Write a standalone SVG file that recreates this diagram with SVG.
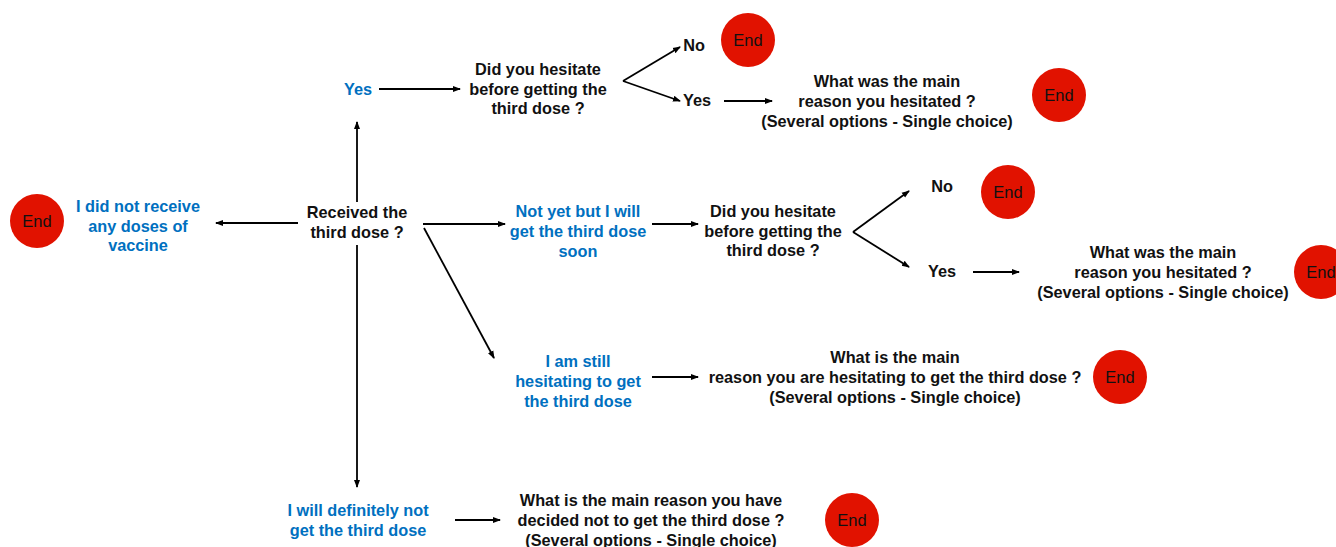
<svg xmlns="http://www.w3.org/2000/svg" width="1336" height="547" viewBox="0 0 1336 547">
<style>
.q{font-family:"Liberation Sans",Arial,sans-serif;font-weight:bold;font-size:16.3px;fill:#111;text-anchor:middle}
.b{fill:#0070C0}
.end circle{fill:#E11200}
.end text{font-family:"Liberation Sans",Arial,sans-serif;font-size:16.5px;fill:#111;text-anchor:middle}
.c line{stroke:#000;stroke-width:1.8;fill:none}
.c .a{marker-end:url(#ah)}
</style>
<defs>
<marker id="ah" markerWidth="8" markerHeight="8" refX="7" refY="4" orient="auto" markerUnits="userSpaceOnUse">
<path d="M0,1 L8,4 L0,7 Z" fill="#000"/>
</marker>
</defs>
<rect width="1336" height="547" fill="#fff"/>

<g class="c" id="connectors">
<line class="a" x1="357" y1="202" x2="357" y2="122"/>
<line class="a" x1="298" y1="223" x2="216" y2="223"/>
<line class="a" x1="357" y1="245" x2="357" y2="487"/>
<line class="a" x1="423" y1="224" x2="505" y2="224"/>
<line class="a" x1="424" y1="228" x2="494" y2="358"/>
<line class="a" x1="379" y1="89" x2="460" y2="89"/>
<line class="a" x1="623" y1="81" x2="680" y2="47"/>
<line class="a" x1="623" y1="81" x2="680" y2="101"/>
<line class="a" x1="724" y1="101" x2="772" y2="101"/>
<line class="a" x1="652" y1="224" x2="698" y2="224"/>
<line class="a" x1="853" y1="232" x2="909" y2="191"/>
<line class="a" x1="853" y1="232" x2="909" y2="267"/>
<line class="a" x1="973" y1="272" x2="1019" y2="272"/>
<line class="a" x1="652" y1="377" x2="698" y2="377"/>
<line class="a" x1="455" y1="520" x2="500" y2="520"/>
</g>

<g id="received">
<text class="q" x="357" y="218">Received the</text>
<text class="q" x="357" y="238">third dose ?</text>
</g>

<g id="no-vaccine">
<text class="q b" x="138" y="212">I did not receive</text>
<text class="q b" x="138" y="232">any doses of</text>
<text class="q b" x="138" y="251">vaccine</text>
</g>
<g id="end1" class="end"><circle cx="37" cy="221" r="27"/><text x="37" y="227">End</text></g>

<g id="yes1"><text class="q b" x="358" y="95">Yes</text></g>
<g id="hesitate1">
<text class="q" x="538" y="75">Did you hesitate</text>
<text class="q" x="538" y="95">before getting the</text>
<text class="q" x="538" y="114">third dose ?</text>
</g>
<g id="no1"><text class="q" x="694" y="51">No</text></g>
<g id="end2" class="end"><circle cx="748" cy="40" r="27"/><text x="748" y="46">End</text></g>
<g id="yes1b"><text class="q" x="697" y="106">Yes</text></g>
<g id="reason1">
<text class="q" x="887" y="87">What was the main</text>
<text class="q" x="887" y="107">reason you hesitated ?</text>
<text class="q" x="887" y="127">(Several options - Single choice)</text>
</g>
<g id="end3" class="end"><circle cx="1059" cy="95" r="27"/><text x="1059" y="101">End</text></g>

<g id="notyet">
<text class="q b" x="578" y="217">Not yet but I will</text>
<text class="q b" x="578" y="237">get the third dose</text>
<text class="q b" x="578" y="257">soon</text>
</g>
<g id="hesitate2">
<text class="q" x="773" y="217">Did you hesitate</text>
<text class="q" x="773" y="237">before getting the</text>
<text class="q" x="773" y="256">third dose ?</text>
</g>
<g id="no2"><text class="q" x="942" y="192">No</text></g>
<g id="end4" class="end"><circle cx="1008" cy="192" r="27"/><text x="1008" y="198">End</text></g>
<g id="yes2"><text class="q" x="942" y="277">Yes</text></g>
<g id="reason2">
<text class="q" x="1163" y="258">What was the main</text>
<text class="q" x="1163" y="278">reason you hesitated ?</text>
<text class="q" x="1163" y="298">(Several options - Single choice)</text>
</g>
<g id="end5" class="end"><circle cx="1321" cy="272" r="27"/><text x="1321" y="278">End</text></g>

<g id="still">
<text class="q b" x="578" y="367">I am still</text>
<text class="q b" x="578" y="387">hesitating to get</text>
<text class="q b" x="578" y="407">the third dose</text>
</g>
<g id="reason3">
<text class="q" x="895" y="363">What is the main</text>
<text class="q" x="895" y="383">reason you are hesitating to get the third dose ?</text>
<text class="q" x="895" y="403">(Several options - Single choice)</text>
</g>
<g id="end6" class="end"><circle cx="1120" cy="377" r="27"/><text x="1120" y="383">End</text></g>

<g id="never">
<text class="q b" x="358" y="516">I will definitely not</text>
<text class="q b" x="358" y="536">get the third dose</text>
</g>
<g id="reason4">
<text class="q" x="651" y="506">What is the main reason you have</text>
<text class="q" x="651" y="526">decided not to get the third dose ?</text>
<text class="q" x="651" y="546">(Several options - Single choice)</text>
</g>
<g id="end7" class="end"><circle cx="852" cy="520" r="27"/><text x="852" y="526">End</text></g>
</svg>
